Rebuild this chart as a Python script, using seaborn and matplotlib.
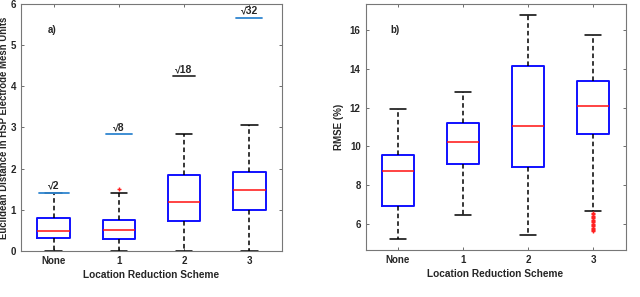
import numpy as np
import pandas as pd
import matplotlib
matplotlib.use("Agg")
import matplotlib.pyplot as plt
import seaborn as sns

sns.set_style("white")
plt.rcParams['font.family'] = ['Liberation Sans', 'DejaVu Sans']
plt.rcParams['font.weight'] = 'bold'

categories = ["None", "1", "2", "3"]

# Panel a: five-number summaries (min, q1, median, q3, max)
dist_lo = [0.0, 0.0, 0.0, 0.0]
dist_q1 = [0.31, 0.30, 0.72, 1.00]
dist_med = [0.49, 0.51, 1.18, 1.47]
dist_q3 = [0.80, 0.76, 1.85, 1.92]
dist_hi = [1.414, 1.414, 2.83, 3.05]
dist_out_cat = ["1"]
dist_out_val = [1.51]
max_labels = ["\u221a2", "\u221a8", "\u221a18", "\u221a32"]
max_values = [np.sqrt(2), np.sqrt(8), np.sqrt(18), np.sqrt(32)]
max_widths = [0.46, 0.40, 0.34, 0.40]
max_colors = ["#2f86d0", "#2f86d0", "#333333", "#2f86d0"]

# Panel b: RMSE (%)
rmse_lo = [5.21, 6.48, 5.43, 6.67]
rmse_q1 = [6.94, 9.07, 8.96, 10.62]
rmse_med = [8.71, 10.25, 11.07, 12.08]
rmse_q3 = [9.54, 11.21, 14.12, 13.38]
rmse_hi = [11.92, 12.80, 16.79, 15.73]
rmse_out_val = [6.58, 6.50, 6.43, 6.36, 6.29, 6.22, 6.15, 6.08, 6.01, 5.94,
                5.87, 5.80, 5.73, 5.66, 5.61]
rmse_out_cat = ["3"] * len(rmse_out_val)


def five_df(lo, q1, med, q3, hi):
    rows = []
    for c, a, b, m, d, e in zip(categories, lo, q1, med, q3, hi):
        for v in (a, b, m, d, e):
            rows.append({"cat": c, "val": v})
    return pd.DataFrame(rows)


fig = plt.figure(figsize=(6.4, 2.97), dpi=100)
ax1 = fig.add_axes([0.0328, 0.155, 0.4078, 0.832])
ax2 = fig.add_axes([0.5711, 0.158, 0.4063, 0.829])

box_kw = dict(width=0.5, whis=(0, 100), fill=False, linewidth=1.3,
              boxprops=dict(color="#1010ff", linewidth=1.4),
              medianprops=dict(color="#ff1010", linewidth=1.1),
              whiskerprops=dict(color="black", linestyle=(0, (3, 2)), linewidth=1.1),
              capprops=dict(color="black", linewidth=1.1),
              showfliers=False)

sns.boxplot(data=five_df(dist_lo, dist_q1, dist_med, dist_q3, dist_hi),
            x="cat", y="val", order=categories, ax=ax1, **box_kw)
ax1.plot([categories.index(c) for c in dist_out_cat], dist_out_val, "+",
         color="#ff2020", ms=3, mew=1.0)
for i, (lab, v, w, col) in enumerate(zip(max_labels, max_values, max_widths, max_colors)):
    ax1.plot([i - w / 2, i + w / 2], [v, v], color=col, lw=1.3)
    ax1.text(i, v + 0.05, lab, ha="center", va="bottom", fontsize=7.5, fontweight="bold")
ax1.text(-0.03, 5.36, "a)", ha="center", va="center", fontsize=7, fontweight="bold")
ax1.set_ylim(0, 6)
ax1.set_yticks(range(0, 7))
ax1.set_ylabel("Euclidean Distance in HSP Electrode Mesh Units", fontsize=6.9,
               fontweight="bold")
ax1.yaxis.set_label_coords(-0.046, 0.5)

sns.boxplot(data=five_df(rmse_lo, rmse_q1, rmse_med, rmse_q3, rmse_hi),
            x="cat", y="val", order=categories, ax=ax2, **box_kw)
ax2.plot([categories.index(c) for c in rmse_out_cat], rmse_out_val, "+",
         color="#ff2020", ms=3, mew=1.0)
ax2.text(-0.05, 16.0, "b)", ha="center", va="center", fontsize=7, fontweight="bold")
ax2.set_ylim(4.65, 17.35)
ax2.set_yticks([6, 8, 10, 12, 14, 16])
ax2.set_ylabel("RMSE (%)", fontsize=7, fontweight="bold", labelpad=4)

for ax in (ax1, ax2):
    ax.set_xlim(-0.5, 3.5)
    ax.set_xlabel("Location Reduction Scheme", fontsize=7.3, fontweight="bold", labelpad=3)
    ax.tick_params(direction="in", length=2.5, width=0.6, color="#555555",
                   labelsize=7, pad=3.5, top=True, right=True,
                   left=True, bottom=True)
    for lbl in ax.get_xticklabels() + ax.get_yticklabels():
        lbl.set_fontweight("bold")
    for s in ax.spines.values():
        s.set_color("#777777")
        s.set_linewidth(0.8)

fig.savefig("out.png", dpi=100)
